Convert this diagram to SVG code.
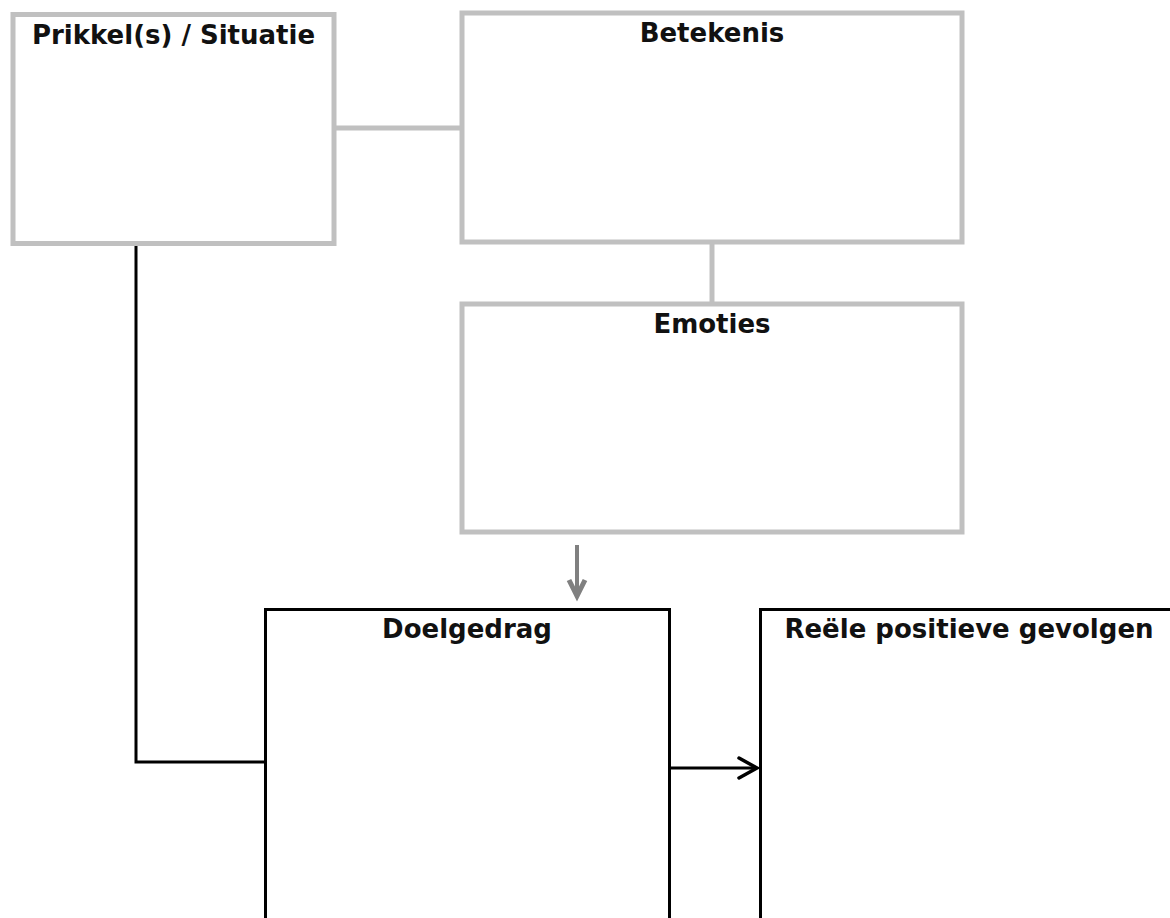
<svg xmlns="http://www.w3.org/2000/svg" width="1170" height="918" viewBox="0 0 1170 918">
<style>
.gbox{fill:#fff;stroke:#c0c0c0;stroke-width:5}
.bbox{fill:#fff;stroke:#000;stroke-width:3}
.lbl{font-family:"DejaVu Sans",Verdana,sans-serif;font-weight:bold;font-size:26px;fill:#111;text-anchor:middle}
.gline{stroke:#c0c0c0;stroke-width:5;fill:none}
.bline{stroke:#000;stroke-width:3;fill:none}
</style>
<rect width="1170" height="918" fill="#fff"/>
<g id="connectors">
<line class="gline" x1="336" y1="128" x2="461" y2="128"/>
<line class="gline" x1="712" y1="244" x2="712" y2="302"/>
<line x1="577" y1="545" x2="577" y2="592" stroke="#808080" stroke-width="4"/>
<path d="M569,580 L577,596 L585,580" stroke="#808080" stroke-width="5" fill="none" stroke-linejoin="miter"/>
<polyline class="bline" points="136,246 136,762 265,762"/>
<line class="bline" x1="670" y1="768" x2="757" y2="768"/>
<path d="M739,758 L757,768 L739,778" stroke="#000" stroke-width="3.5" fill="none" stroke-linecap="round"/>
</g>
<g id="prikkel">
<rect class="gbox" x="13" y="14.5" width="321" height="229"/>
<text class="lbl" x="173.5" y="44">Prikkel(s) / Situatie</text>
</g>
<g id="betekenis">
<rect class="gbox" x="462" y="13" width="500" height="229"/>
<text class="lbl" x="712" y="42">Betekenis</text>
</g>
<g id="emoties">
<rect class="gbox" x="462" y="304" width="500" height="228"/>
<text class="lbl" x="712" y="333">Emoties</text>
</g>
<g id="doelgedrag">
<rect class="bbox" x="265.5" y="609.5" width="404" height="320"/>
<text class="lbl" x="467" y="638">Doelgedrag</text>
</g>
<g id="gevolgen">
<rect class="bbox" x="760.5" y="609.5" width="420" height="320"/>
<text class="lbl" x="969" y="638">Reële positieve gevolgen</text>
</g>
</svg>
